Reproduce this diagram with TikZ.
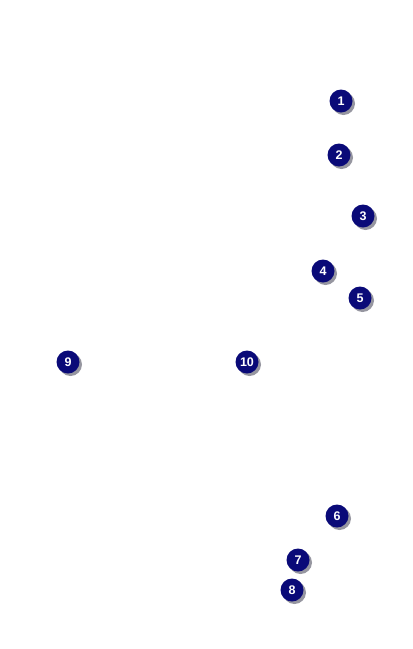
\documentclass[tikz,border=0pt]{standalone}
\usepackage{fontspec}
\setmainfont{Liberation Sans}
\begin{document}
\begin{tikzpicture}[x=1pt,y=-1pt,
  badge/.style={circle,fill={rgb,255:red,10;green,10;blue,120},text=white,
    font=\fontsize{12.5}{12.5}\selectfont\bfseries,minimum size=23pt,inner sep=0pt},
  shade/.style={circle,fill={rgb,255:red,150;green,150;blue,160},minimum size=23pt,inner sep=0pt}]
\useasboundingbox (0,0) rectangle (413,649);
\foreach \x/\y in {341/101,339/155,363/216,323/271,360/298,337/516,298/560,292/590,68/362,247/362}{
  \node[shade] at (\x+2.5,\y+2.5) {};
}
\node[badge] (n1) at (341,101) {1};
\node[badge] (n2) at (339,155) {2};
\node[badge] (n3) at (363,216) {3};
\node[badge] (n4) at (323,271) {4};
\node[badge] (n5) at (360,298) {5};
\node[badge] (n6) at (337,516) {6};
\node[badge] (n7) at (298,560) {7};
\node[badge] (n8) at (292,590) {8};
\node[badge] (n9) at (68,362) {9};
\node[badge] (n10) at (247,362) {10};
\end{tikzpicture}
\end{document}
